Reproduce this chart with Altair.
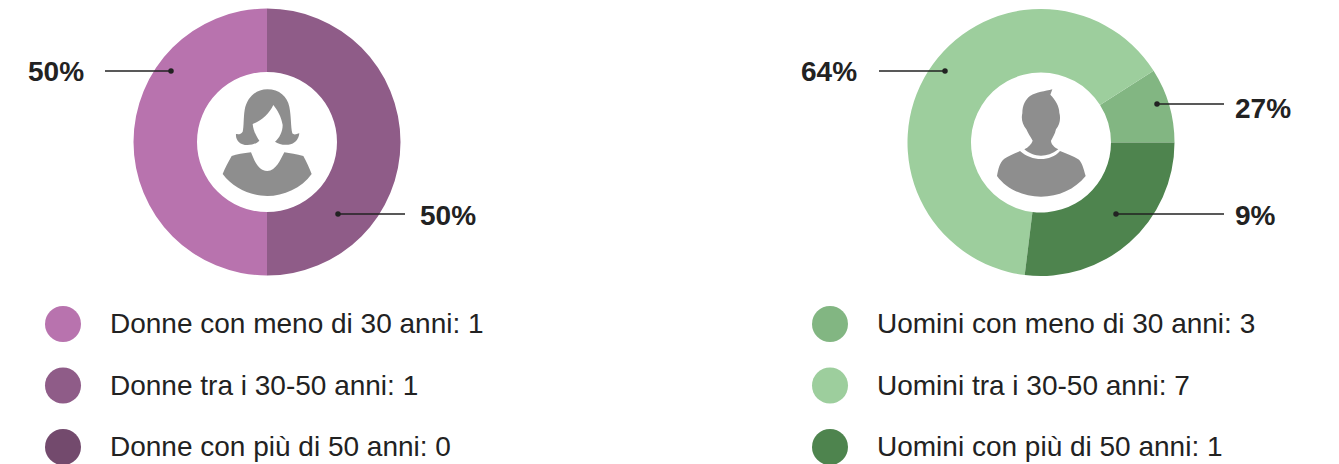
import math
import re
import altair as alt
import pandas as pd

OFF = 8  # page margin

WOMEN_LABELS = ["Donne con meno di 30 anni: 1", "Donne tra i 30-50 anni: 1", "Donne con più di 50 anni: 0"]
MEN_LABELS = ["Uomini con meno di 30 anni: 3", "Uomini tra i 30-50 anni: 7", "Uomini con più di 50 anni: 1"]
WOMEN_COLORS = ["#B873AE", "#8F5C88", "#734A6D"]
MEN_COLORS = ["#82B682", "#9DCE9D", "#4E844E"]
# wedge sweep in degrees as drawn, clockwise from the start angle
WOMEN_SWEEP = [180, 180, 0]
WOMEN_ORDER = [2, 1, 3]
MEN_SWEEP = [32.5, 230.5, 97]
MEN_ORDER = [1, 3, 2]

ALL_LABELS = WOMEN_LABELS + MEN_LABELS
ALL_COLORS = WOMEN_COLORS + MEN_COLORS
color = alt.Color("label:N", scale=alt.Scale(domain=ALL_LABELS, range=ALL_COLORS), legend=None)


def donut(labels, sweep, order, cx, cy, start):
    df = pd.DataFrame({"label": labels, "v": sweep, "o": order})
    a = math.radians(start)
    return alt.Chart(df).mark_arc(outerRadius=133.5, innerRadius=70).encode(
        theta=alt.Theta("v:Q", stack=True, scale=alt.Scale(domain=[0, 360], range=[a, a + 2 * math.pi])),
        order=alt.Order("o:Q"),
        color=color,
        x=alt.value(cx - OFF),
        y=alt.value(cy - OFF),
    )


def legend(labels, cx, tx):
    df = pd.DataFrame({"label": labels, "row": [0, 1, 2]})
    y = alt.Y("row:Q", scale=alt.Scale(domain=[0, 2], range=[324 - OFF, 447 - OFF]), axis=None)
    dots = alt.Chart(df).mark_circle(size=1296, opacity=1).encode(
        x=alt.value(cx - OFF), y=y, color=color)
    texts = alt.Chart(df).mark_text(
        align="left", baseline="middle", font="Liberation Sans", fontSize=28, color="#222222", dy=1
    ).encode(x=alt.value(tx - OFF), y=y, text="label:N")
    return dots + texts


def callout(text, x1, x2, y, dot_x, tx, ty):
    df = pd.DataFrame({"t": [text]})
    rule = alt.Chart(df).mark_rule(color="#222222", strokeWidth=1.3).encode(
        x=alt.value(x1 - OFF), x2=alt.value(x2 - OFF), y=alt.value(y - OFF))
    dot = alt.Chart(df).mark_circle(size=30, color="#222222", opacity=1).encode(
        x=alt.value(dot_x - OFF), y=alt.value(y - OFF))
    lab = alt.Chart(df).mark_text(
        align="left", baseline="middle", font="Liberation Sans", fontWeight="bold",
        fontSize=28, color="#222222"
    ).encode(x=alt.value(tx - OFF), y=alt.value(ty - OFF), text="t:N")
    return rule + dot + lab


def shift(path, cx, cy):
    nums = iter([cx, cy] * 1000)
    return re.sub(r"-?\d+\.?\d*", lambda m: f"{float(m.group()) - next(nums):g}", path)


WOMAN_HAIR = (
    "M232 58 C195 58 170 85 164 120 C160 145 162 170 158 185 C152 195 142 192 138 192 "
    "C136 210 150 225 172 225 C188 225 200 220 208 212 C196 195 190 180 188 162 "
    "C215 152 238 130 250 105 C262 120 274 140 278 165 C278 185 268 205 255 215 "
    "C265 222 280 226 295 224 C315 222 326 208 328 190 C320 192 312 196 307 190 "
    "C302 170 304 140 298 110 C292 80 268 58 232 58 Z"
)
WOMAN_BODY = (
    "M183 247 C160 250 140 252 125 258 C115 275 105 295 98 312 "
    "C130 355 185 378 232 378 C280 378 335 355 365 312 C358 295 350 275 340 258 "
    "C320 252 300 250 283 247 C272 268 258 303 232 303 C205 303 192 270 183 247 Z"
)
MAN_HEAD = (
    "M262 58 L256 74 C272 90 283 110 283 128 C288 145 284 165 273 178 C270 192 262 205 258 212 "
    "C258 222 268 232 280 238 C262 252 245 257 228 257 C210 257 192 250 178 238 "
    "C190 232 200 222 203 212 C196 200 188 188 184 178 C172 165 168 145 172 130 "
    "C172 105 182 88 195 78 C215 66 240 64 262 58 Z"
)
MAN_BODY = (
    "M165 243 C185 260 205 267 228 267 C250 267 270 260 285 243 C305 252 325 258 340 268 "
    "C352 278 355 295 362 318 C330 358 280 380 228 380 C175 380 125 358 96 318 "
    "C100 295 104 278 118 266 C130 258 150 250 165 243 Z"
)


def icon(paths, zx, zy, cx, cy):
    d = " ".join(shift(p, zx, zy) for p in paths)
    return alt.Chart(pd.DataFrame({"a": [1]})).mark_point(
        shape=d, size=0.4444, filled=True, color="#8E8E8E", opacity=1, strokeWidth=0
    ).encode(x=alt.value(cx - OFF), y=alt.value(cy - OFF))


chart = alt.layer(
    donut(WOMEN_LABELS, WOMEN_SWEEP, WOMEN_ORDER, 267, 142, 0),
    donut(MEN_LABELS, MEN_SWEEP, MEN_ORDER, 1041, 142.5, 57.5),
    icon([WOMAN_HAIR, WOMAN_BODY], 231, 216, 267, 142),
    icon([MAN_HEAD, MAN_BODY], 228, 217.5, 1041, 142.5),
    callout("50%", 105, 171, 71, 171, 28, 73),
    callout("50%", 338, 405, 214, 338, 420, 217),
    callout("64%", 879, 945, 71, 945, 801, 73),
    callout("27%", 1157, 1224, 104, 1157, 1235, 110),
    callout("9%", 1116, 1224, 214, 1116, 1235, 217),
    legend(WOMEN_LABELS, 63, 110),
    legend(MEN_LABELS, 830, 877),
).resolve_scale(theta="independent").properties(
    width=1323, height=456, padding=0, autosize=alt.AutoSizeParams(type="none")
).configure_view(stroke=None)

chart.save("out.html", embed_options={"renderer": "svg", "actions": False})
